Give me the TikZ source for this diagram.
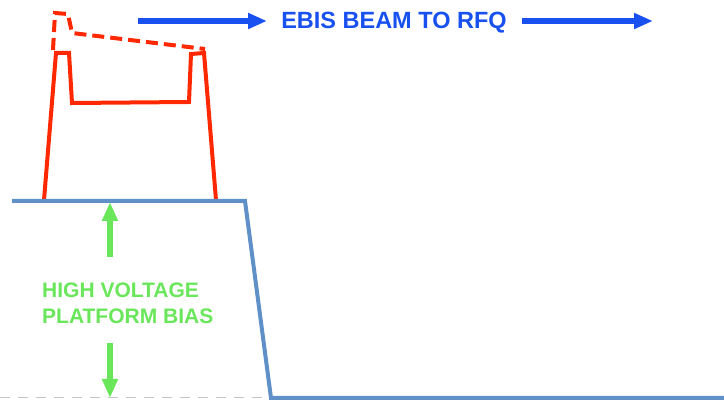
\documentclass[tikz,border=0pt]{standalone}
\usepackage{fontspec}
\setmainfont{Liberation Sans}
\usetikzlibrary{arrows.meta}
\definecolor{pulsered}{RGB}{255,40,0}
\definecolor{platblue}{RGB}{95,145,200}
\definecolor{beamblue}{RGB}{25,80,240}
\definecolor{biasgreen}{RGB}{105,230,90}
\tikzset{
  pulse/.style={pulsered, line width=4pt, line join=miter},
  pulsedash/.style={pulse, dash pattern=on 12pt off 6pt},
  platform/.style={platblue, line width=4pt, line join=miter},
  beamarrow/.style={beamblue, line width=5.5pt, -{Triangle[length=19pt,width=15pt]}},
  biasarrow/.style={biasgreen, line width=6pt, -{Triangle[length=19pt,width=15pt]}},
  groundline/.style={gray!45, line width=1pt, dash pattern=on 10pt off 8pt},
}
\begin{document}
\begin{tikzpicture}[x=1pt,y=-1pt]
\useasboundingbox (0,0) rectangle (724,406);

% ground reference
\draw[groundline] (0,398) -- (268,398);

% extracted pulse on the platform
\draw[pulse] (44,200) -- (56,53) -- (69,53) -- (72,103) -- (189,102)
  -- (191,54) -- (204,53) -- (216,200);
% pulse shape at the top
\draw[pulsedash] (53,50) -- (55,13) -- (68,14) -- (72,33) -- (205,49);

% platform potential
\coordinate (p0) at (12,201);
\coordinate (p1) at (245,201);
\coordinate (p2) at (271,398);
\coordinate (p3) at (724,398);
\draw[platform] (p0) -- (p1) -- (p2) -- (p3);

% beam direction
\node[beamblue, font=\bfseries\fontsize{23.5}{28}\selectfont, anchor=base, inner sep=0pt]
  (beam) at (394,29) {EBIS BEAM TO RFQ};
\coordinate (b0) at (138,21);
\coordinate (b1) at (267,21);
\coordinate (b2) at (522,21);
\coordinate (b3) at (653,21);
\draw[beamarrow] (b0) -- (b1);
\draw[beamarrow] (b2) -- (b3);

% platform bias
\node[biasgreen, font=\bfseries\fontsize{21}{26}\selectfont, align=left,
  anchor=north west, inner sep=0pt] (bias) at (42,283)
  {HIGH VOLTAGE\\PLATFORM BIAS};
\coordinate (g0) at (110,257);
\coordinate (g1) at (110,202);
\coordinate (g2) at (110,343);
\coordinate (g3) at (110,398);
\draw[biasarrow] (g0) -- (g1);
\draw[biasarrow] (g2) -- (g3);
\end{tikzpicture}
\end{document}
